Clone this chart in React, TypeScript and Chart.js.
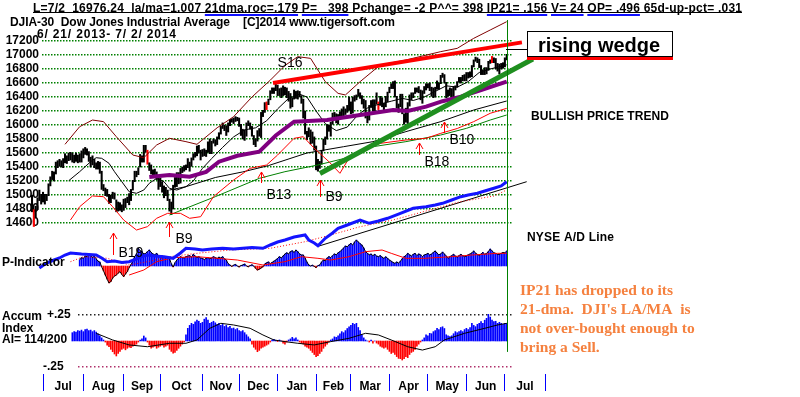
import React, { useEffect, useRef } from "react";
import { Chart, registerables } from "chart.js";

Chart.register(...registerables);

const SANS = "Arial, 'Liberation Sans', Helvetica, sans-serif";
const SERIF = "'Times New Roman', 'Liberation Serif', Times, serif";

// ---------------- text ----------------
const headerText =
  "L=7/2  16976.24  la/ma=1.007 21dma.roc=.179 P=   398 Pchange= -2 P^^= 398 IP21= .156 V= 24 OP= .496 65d-up-pct= .031";
const headerHighlights = ["21dma.roc=.179", "P=   398", "IP21= .156", "V= 24", "OP= .496"];
const titleText = "DJIA-30  Dow Jones Industrial Average    [C]2014 www.tigersoft.com";
const periodText = "6/ 21/ 2013- 7/ 2/ 2014";
const wedgeLabel = "rising wedge";
const trendLabel = "BULLISH PRICE TREND";
const adLabel = "NYSE A/D Line";
const pLabel = "P-Indicator";
const accumLabels = ["Accum", "Index", "AI= 114/200"];
const noteLines = [
  "IP21 has dropped to its",
  "21-dma.  DJI's LA/MA  is",
  "not over-bought enough to",
  "bring a Sell.",
];

// ---------------- axes ----------------
const monthLabels = ["Jul", "Aug", "Sep", "Oct", "Nov", "Dec", "Jan", "Feb", "Mar", "Apr", "May", "Jun", "Jul"];
const monthStartDays = [6, 28, 50, 70, 93, 113, 134, 155, 174, 195, 216, 237, 258, 280];
const priceTicks = [14600, 14800, 15000, 15200, 15400, 15600, 15800, 16000, 16200, 16400, 16600, 16800, 17000, 17200];
const accumLevels = [0.25, -0.25];
const accumLevelText = ["+.25", "-.25"];
const lastDay = 259;

// ---------------- daily DJIA bars (trading day 0 = 6/21/2013) ----------------
const highs = [
  15000, 14790, 14840, 14960, 15070, 15010, 15040, 15010, 15010, 15160,
  15260, 15340, 15330, 15470, 15490, 15510, 15490, 15520, 15590, 15560,
  15600, 15610, 15600, 15570, 15600, 15570, 15590, 15630, 15660, 15680,
  15660, 15620, 15540, 15560, 15510, 15460, 15480, 15470, 15340, 15150,
  15100, 15080, 15010, 15000, 15040, 15030, 14930, 14900, 14890, 14860,
  14940, 14950, 14970, 15020, 15080, 15210, 15340, 15340, 15390, 15580,
  15560, 15710, 15710, 15640, 15460, 15430, 15360, 15370, 15330, 15260,
  15240, 15190, 15130, 15110, 15070, 14940, 14900, 15140, 15250, 15320,
  15320, 15380, 15400, 15420, 15430, 15520, 15470, 15530, 15590, 15610,
  15700, 15710, 15640, 15650, 15660, 15640, 15760, 15800, 15770, 15800,
  15790, 15830, 15890, 15980, 16030, 16000, 15990, 16030, 16080, 16090,
  16100, 16120, 16110, 16100, 16010, 15940, 15930, 16030, 16060, 16030,
  15980, 15850, 15800, 15920, 15950, 16180, 16210, 16320, 16330, 16370,
  16490, 16530, 16530, 16590, 16570, 16520, 16530, 16560, 16540, 16530,
  16480, 16450, 16390, 16500, 16480, 16490, 16480, 16420, 16370, 16200,
  15910, 15960, 15930, 15900, 15830, 15700, 15510, 15480, 15640, 15800,
  15830, 16000, 16000, 16040, 16170, 16180, 16160, 16150, 16190, 16230,
  16260, 16230, 16280, 16400, 16330, 16400, 16420, 16430, 16510, 16460,
  16420, 16370, 16350, 16160, 16280, 16350, 16360, 16360, 16460, 16330,
  16410, 16390, 16310, 16410, 16470, 16540, 16590, 16620, 16630, 16410,
  16300, 16440, 16440, 16160, 16240, 16320, 16430, 16460, 16460, 16530,
  16530, 16550, 16500, 16490, 16550, 16590, 16590, 16600, 16540, 16530,
  16540, 16630, 16600, 16710, 16740, 16720, 16610, 16500, 16530, 16520,
  16550, 16560, 16620, 16680, 16680, 16710, 16720, 16750, 16750, 16760,
  16850, 16930, 16970, 16960, 16940, 16850, 16790, 16820, 16820, 16910,
  16930, 16980, 16960, 16950, 16880, 16870, 16880, 16890, 16960, 17010,
];
const lows = [
  14760, 14550, 14680, 14790, 14920, 14870, 14900, 14870, 14920, 14990,
  15130, 15220, 15200, 15300, 15390, 15410, 15400, 15390, 15460, 15450,
  15490, 15500, 15470, 15460, 15480, 15460, 15470, 15470, 15530, 15580,
  15570, 15480, 15400, 15430, 15390, 15370, 15370, 15310, 15080, 15060,
  14990, 14980, 14880, 14890, 14950, 14940, 14760, 14770, 14780, 14760,
  14780, 14820, 14890, 14860, 14920, 15070, 15190, 15260, 15290, 15400,
  15470, 15470, 15610, 15440, 15350, 15300, 15260, 15260, 15220, 15080,
  15120, 15040, 14960, 14990, 14920, 14770, 14720, 14800, 15110, 15120,
  15160, 15170, 15320, 15340, 15360, 15390, 15340, 15410, 15500, 15540,
  15560, 15600, 15500, 15550, 15560, 15550, 15610, 15590, 15590, 15740,
  15700, 15720, 15800, 15870, 15950, 15920, 15850, 15900, 15990, 16040,
  16020, 16050, 16060, 15980, 15850, 15800, 15780, 15840, 15990, 15940,
  15840, 15720, 15690, 15770, 15840, 15820, 16120, 16180, 16220, 16290,
  16360, 16450, 16450, 16490, 16420, 16420, 16390, 16420, 16430, 16390,
  16340, 16240, 16260, 16370, 16380, 16370, 16400, 16310, 16100, 15870,
  15790, 15830, 15730, 15740, 15640, 15360, 15340, 15380, 15440, 15630,
  15720, 15800, 15910, 15840, 16010, 16080, 16030, 16010, 16100, 16110,
  16130, 16150, 16180, 16210, 16160, 16170, 16340, 16360, 16410, 16380,
  16300, 16240, 16100, 16030, 16070, 16250, 16200, 16200, 16300, 16220,
  16280, 16260, 16200, 16260, 16330, 16460, 16520, 16520, 16400, 16240,
  16180, 16260, 16160, 16010, 16040, 16020, 16270, 16360, 16390, 16450,
  16470, 16460, 16360, 16310, 16450, 16500, 16530, 16490, 16410, 16390,
  16400, 16510, 16510, 16590, 16680, 16600, 16390, 16410, 16420, 16360,
  16380, 16500, 16540, 16610, 16600, 16630, 16630, 16630, 16670, 16680,
  16690, 16830, 16910, 16890, 16820, 16720, 16720, 16720, 16730, 16780,
  16880, 16890, 16890, 16800, 16770, 16730, 16800, 16810, 16830, 16930,
];
const redBarDays = [1, 63, 128, 189, 251];

// ---------------- price-panel lines: [trading day, value] ----------------
const ma21 = [[20,15204],[26,15333],[32,15476],[35,15533],[38,15524],[42,15453],[45,15333],[49,15190],[53,15047],[57,15024],[61,15071],[64,15167],[68,15238],[72,15190],[75,15095],[79,15071],[84,15119],[88,15200],[93,15380],[98,15520],[104,15680],[110,15830],[116,15930],[122,15960],[128,16060],[134,16230],[140,16380],[146,16440],[150,16400],[155,16200],[160,16020],[166,15920],[172,15970],[178,16150],[184,16260],[190,16300],[196,16340],[202,16380],[208,16350],[214,16400],[220,16480],[226,16560],[232,16540],[238,16620],[244,16750],[250,16800],[256,16840],[259,16860]];
const upperBand = [[18,15724],[26,15976],[33,16071],[39,16048],[46,15833],[55,15571],[61,15533],[68,15714],[75,15810],[84,15762],[90,15724],[101,15960],[110,16119],[120,16400],[130,16640],[138,16850],[145,16976],[152,16952],[160,16619],[167,16452],[171,16429],[179,16619],[190,16857],[204,16929],[223,17048],[232,17095],[241,17238],[250,17357],[259,17476]];
const lowerBand = [[21,14643],[26,14833],[33,14986],[39,14976],[44,14833],[50,14643],[57,14500],[63,14548],[68,14667],[74,14738],[81,14738],[86,14667],[92,14690],[99,14976],[110,15214],[119,15381],[128,15429],[134,15571],[143,15810],[148,15833],[154,15667],[162,15476],[168,15310],[174,15571],[190,15738],[204,15786],[215,15810],[223,15881],[232,15950],[241,16048],[250,16167],[259,16238]];
const ma65 = [[64,15257],[75,15286],[86,15262],[95,15330],[102,15476],[112,15560],[124,15619],[133,15850],[143,16048],[161,16071],[179,16143],[197,16214],[205,16200],[215,16262],[224,16340],[234,16405],[245,16500],[259,16619]];
const slowMa = [[75,15071],[84,15119],[100,15250],[115,15330],[129,15420],[150,15600],[170,15690],[186,15762],[204,15905],[223,16048],[241,16214],[259,16343]];
const greenMa = [[75,14714],[84,14810],[100,14976],[124,15238],[138,15333],[156,15429],[170,15520],[186,15690],[204,15762],[223,15857],[237,15952],[250,16071],[259,16143]];
const wedgeTop = [[131.5,16600],[267.3,17180]];
const supportLine = [[157.1,15307],[273.3,16943]];

// ---------------- NYSE A/D line ----------------
const adLine = [[2,0],[4,700],[8,1200],[12,1500],[15,1700],[18,2000],[21,2200],[24,2150],[27,2100],[31,2050],[35,2000],[38,1700],[41,1330],[45,1400],[49,1250],[53,1330],[57,1600],[60,1850],[63,2000],[67,1900],[72,1830],[77,1670],[81,2200],[84,2670],[89,2600],[93,2500],[98,2600],[104,2670],[110,2600],[115,2670],[120,2750],[126,2670],[130,3000],[134,3300],[138,3500],[143,3800],[149,4000],[151,3500],[154,3200],[156,2930],[160,3670],[164,4200],[167,4670],[172,5000],[179,5500],[184,5170],[189,5400],[194,5670],[201,6170],[208,6670],[215,6830],[220,7000],[224,7170],[229,7500],[234,7830],[238,8000],[243,8170],[247,8400],[252,8670],[256,8900],[259,9330]];
const adMa = [[21,1330],[28,1830],[41,1670],[53,1000],[63,1330],[75,1830],[90,2170],[108,2500],[130,2670],[149,3330],[163,4000],[179,4830],[197,5500],[215,6400],[233,7300],[252,7900],[259,8500]];
const adTrend = [[156.6,2900],[269.9,9330]];

// ---------------- P-Indicator (daily from day 26) ----------------
const pStart = 26;
const pIndicator = [
  150, 210, 190, 250, 230, 292, 260, 220, 240, 180, 120, 100,
  -20, -120, -225, -330, -425, -392, -300, -250, -225, -180, -142, -210, -267, -200, -140, -42,
  33, 120, 233, 300, 442, 380, 358, 300, 317, 360, 400, 340, 300, 280, 317, 260, 230, 250, 233, 200, 233, 180,
  60, -25, 80,
  150, 190, 233, 210, 200, 233, 250, 260, 220, 292, 250, 210, 233, 200, 190, 160, 192, 210, 180, 200, 233, 210, 190, 220, 200, 233, 180, 150,
  60, 25, -10, 20, 40, 0, -25, 10, 25, 50, 0, -20, 10, 30, 0, -60, -100, -80, -50, -20,
  50, 80, 100, 60, 90, 120,
  150, 190, 233, 200, 250, 300,
  330, 300, 360, 380, 340, 400, 360, 300, 275,
  275, 200, 100,
  25, 0, 20, -10, -40, 10, 25,
  100, 150, 130, 200, 233, 210, 260, 300, 280, 330, 360, 400,
  450, 500, 480, 530, 567, 520, 600, 650, 600, 560, 525, 450,
  358, 317, 280, 300, 260, 292, 250, 233, 260, 220, 192, 230, 192,
  150, 120, 90, 67, 100, 70, 120, 180,
  233, 260, 317, 280, 250, 292, 317, 260, 300, 280, 233, 275,
  292, 317, 275, 300, 340, 375, 320, 280, 300, 350, 300,
  250, 192, 233, 260, 292, 250, 220, 260, 292, 260, 233, 250, 280, 300,
  330, 375, 320, 292, 260, 300, 340, 292, 317, 360, 425, 380, 330, 317, 292,
  292, 317, 340, 330, 375,
];
const pMa = [[53,-225],[61,-100],[68,108],[77,208],[90,233],[101,192],[112,150],[126,25],[138,108],[147,233],[156,192],[163,150],[173,233],[182,358],[191,400],[196,317],[204,192],[214,192],[229,233],[240,275],[254,317],[259,317]];

// ---------------- Accumulation Index (daily from day 22) ----------------
const aiStart = 22;
const accumIndex = [
  0.08, 0.09, 0.085, 0.1, 0.095, 0.105, 0.09, 0.11, 0.115, 0.1, 0.105, 0.09, 0.1, 0.085, 0.07, 0.05, 0.03,
  0.01, -0.01,
  -0.04, -0.055, -0.08, -0.103, -0.125, -0.144, -0.12, -0.1, -0.08, -0.07, -0.085, -0.07, -0.06, -0.065, -0.05, -0.04, -0.03, -0.01,
  0.01, 0.02, 0.048, 0.03, -0.01,
  -0.04, -0.07, -0.06, -0.05, -0.07, -0.06, -0.05, -0.04, -0.06, -0.05, -0.04, -0.08, -0.1, -0.118, -0.11, -0.09, -0.07, -0.05, -0.03, -0.01,
  0.06, 0.122, 0.15, 0.17, 0.16, 0.185, 0.2, 0.19, 0.17, 0.18, 0.21, 0.224, 0.2, 0.17, 0.18, 0.19, 0.175, 0.16, 0.17, 0.15, 0.16, 0.14, 0.15, 0.13, 0.14, 0.12, 0.125, 0.11, 0.12, 0.1, 0.09, 0.1, 0.08, 0.06, 0.04, 0.02,
  -0.03, -0.06, -0.08, -0.103, -0.09, -0.07, -0.06, -0.05, -0.04, -0.03, -0.01,
  0.01, 0.015, 0.005, -0.005, 0.01, 0.0, -0.02, -0.03, -0.01, 0.01, 0.02, 0.035, 0.02, 0.03, 0.01,
  -0.01, -0.02, -0.03, -0.05, -0.06, -0.07, -0.09, -0.11, -0.13, -0.151, -0.14, -0.12, -0.1, -0.07, -0.05, -0.03, -0.01,
  0.01, 0.02, 0.04, 0.035, 0.05, 0.07, 0.09, 0.08, 0.1, 0.12, 0.136, 0.15, 0.17, 0.16, 0.17, 0.13, 0.1, 0.06, 0.03,
  0.01, 0.0, -0.01, 0.01, -0.02, 0.0, -0.02, -0.03,
  -0.05, -0.06, -0.07, -0.06, -0.08, -0.1, -0.12, -0.11, -0.13, -0.15, -0.167, -0.17, -0.183, -0.17, -0.15, -0.16, -0.13, -0.11, -0.1, -0.08, -0.05, -0.03, -0.01,
  0.01, 0.03, 0.06, 0.05, 0.074, 0.07, 0.09, 0.1, 0.122, 0.11, 0.13, 0.137, 0.12, 0.06, 0.05, 0.042, 0.05, 0.07, 0.09, 0.08, 0.09, 0.1, 0.09, 0.11, 0.122, 0.11, 0.13, 0.17, 0.15, 0.138, 0.16, 0.17, 0.186, 0.17, 0.2, 0.218, 0.256, 0.23, 0.2, 0.186, 0.19, 0.17, 0.18, 0.17, 0.16, 0.17, 0.17,
];
const aiMa = [[35,0.074],[44,0.01],[53,-0.038],[63,-0.055],[75,-0.022],[84,-0.022],[90,0.01],[97,0.122],[103,0.17],[110,0.154],[119,0.122],[126,0.058],[132,0.01],[138,-0.006],[145,-0.022],[154,-0.038],[163,-0.006],[173,0.026],[182,0.074],[189,0.058],[196,0.01],[205,-0.055],[213,-0.087],[220,-0.055],[225,0.01],[236,0.074],[247,0.122],[254,0.154],[259,0.17]];

// ---------------- signals ----------------
const signals = [
  { day: 44, label: "B19", tip: 14457, tail: 14143 },
  { day: 75, label: "B9", tip: 14614, tail: 14400 },
  { day: 125, label: "B13", tip: 15329, tail: 15171 },
  { day: 157, label: "B9", tip: 15214, tail: 14971 },
  { day: 211, label: "B18", tip: 15743, tail: 15571 },
  { day: 225, label: "B10", tip: 16043, tail: 15886 },
];
const sellSignal = { day: 134, label: "S16", price: 16886 };

// ---------------- layout (pixels) ----------------
const signalLabelOffsets = [[5, -2], [6, 2], [5, 12], [5, 0], [5, 7], [5, 7]];

const xy = (pairs: number[][]) => pairs.map(([x, y]) => ({ x, y }));

const monthTicks: any[] = [];
monthStartDays.forEach((d, i) => {
  monthTicks.push({ value: d, boundary: true });
  if (i < monthLabels.length) monthTicks.push({ value: (d + monthStartDays[i + 1]) / 2, name: monthLabels[i] });
});

function fitText(ctx: any, text: string, x: number, y: number, width?: number) {
  ctx.letterSpacing = "0px";
  if (width) {
    const w = ctx.measureText(text).width;
    const sp = (width - w) / Math.max(1, text.length - 1);
    ctx.letterSpacing = `${sp}px`;
  }
  ctx.fillText(text, x, y);
  ctx.letterSpacing = "0px";
}

function dottedRow(ctx: any, x0: number, x1: number, y: number, color: string, step: number) {
  ctx.fillStyle = color;
  const yy = Math.round(y) - 1;
  for (let x = Math.round(x0); x <= x1; x += step) ctx.fillRect(x, yy, 1.5, 1.5);
}

const annotationPlugin = {
  id: "tigerAnnotations",
  afterDraw(chart: any) {
    const { ctx, chartArea, scales } = chart;
    const xs = scales.x;
    const yp = scales.yPrice;

    // dotted reference grids, painted underneath everything already drawn
    ctx.save();
    ctx.globalCompositeOperation = "destination-over";
    priceTicks.forEach((v) => {
      dottedRow(ctx, chartArea.left, chartArea.right, yp.getPixelForValue(v), "#008000", 3);
    });
    accumLevels.forEach((lv, i) => {
      dottedRow(ctx, 78, chartArea.right, scales.yAI.getPixelForValue(lv), i === 0 ? "#222222" : "#b0306a", 4);
    });
    ctx.restore();

    ctx.save();
    // last-day vertical marker
    const gx = Math.round(xs.getPixelForValue(lastDay)) + 0.5;
    ctx.strokeStyle = "#008000";
    ctx.lineWidth = 1;
    ctx.beginPath();
    ctx.moveTo(gx, chartArea.top);
    ctx.lineTo(gx, scales.yAI.getPixelForValue(-0.105));
    ctx.stroke();

    // signal arrows
    ctx.textAlign = "left";
    ctx.textBaseline = "middle";
    signals.forEach((s, i) => {
      const sx = Math.round(xs.getPixelForValue(s.day)) + 0.5;
      const ty = yp.getPixelForValue(s.tip);
      const by = yp.getPixelForValue(s.tail);
      ctx.strokeStyle = "#ff0000";
      ctx.beginPath();
      ctx.moveTo(sx, by);
      ctx.lineTo(sx, ty);
      ctx.moveTo(sx - 3.5, ty + 6);
      ctx.lineTo(sx, ty);
      ctx.lineTo(sx + 3.5, ty + 6);
      ctx.stroke();
      const [dx, dy] = signalLabelOffsets[i];
      ctx.fillStyle = "#000";
      ctx.font = `14px ${SANS}`;
      ctx.fillText(s.label, sx + dx, by + dy);
    });
    ctx.font = `14px ${SANS}`;
    ctx.fillStyle = "#000";
    ctx.fillText(sellSignal.label, xs.getPixelForValue(sellSignal.day), yp.getPixelForValue(sellSignal.price));

    // header
    ctx.textBaseline = "alphabetic";
    ctx.font = `bold 12px ${SANS}`;
    ctx.fillStyle = "#000";
    const hx = 33;
    fitText(ctx, headerText, hx, 11.5, 709);
    ctx.fillRect(hx, 12, 709, 1);
    {
      const natural = ctx.measureText(headerText).width;
      const sp = (709 - natural) / (headerText.length - 1);
      ctx.fillStyle = "#1010ff";
      headerHighlights.forEach((h) => {
        const k = headerText.indexOf(h);
        const sx = hx + ctx.measureText(headerText.slice(0, k)).width + sp * k;
        const sw = ctx.measureText(h).width + sp * (h.length - 1);
        ctx.fillRect(sx, 14, sw, 2);
      });
    }
    ctx.fillStyle = "#000";
    fitText(ctx, titleText, 10, 26, 385);
    fitText(ctx, periodText, 37, 37.5, 139);

    // rising wedge box
    ctx.fillStyle = "#000";
    ctx.fillRect(506, 49, 21, 1);
    ctx.fillStyle = "#fff";
    ctx.fillRect(527, 31, 146, 26);
    ctx.strokeStyle = "#000";
    ctx.lineWidth = 1;
    ctx.strokeRect(527.5, 31.5, 145, 25);
    ctx.fillStyle = "#ff0000";
    ctx.fillRect(527, 57, 146, 3);
    ctx.fillStyle = "#000";
    ctx.font = `bold 20px ${SANS}`;
    ctx.textAlign = "center";
    ctx.fillText(wedgeLabel, 599, 52);

    // right-side labels
    ctx.textAlign = "left";
    ctx.textBaseline = "middle";
    ctx.font = `bold 12px ${SANS}`;
    fitText(ctx, trendLabel, 531, 117, 138);
    fitText(ctx, adLabel, 527, 238, 87);

    // left panel labels
    ctx.fillText(pLabel, 2, 263);
    accumLabels.forEach((t, i) => ctx.fillText(t, 2, 317 + i * 11.5));
    accumLevels.forEach((lv, i) => {
      const y = scales.yAI.getPixelForValue(lv);
      ctx.fillText(accumLevelText[i], i === 0 ? 47 : 43, y);
    });

    // commentary
    ctx.fillStyle = "#f5813f";
    ctx.font = `bold 15.5px ${SERIF}`;
    ctx.textBaseline = "alphabetic";
    noteLines.forEach((t, i) => ctx.fillText(t, 520, 295 + i * 19));
    ctx.restore();
  },
};

const isBoundary = (c: any) => !!(c.tick && c.tick.boundary);

function buildConfig(): any {
  const lineDs = (label: string, pairs: number[][], axis: string, color: string, width: number, order: number, extra: any = {}) => ({
    type: "line",
    label,
    data: xy(pairs),
    yAxisID: axis,
    borderColor: color,
    borderWidth: width,
    pointRadius: 0,
    tension: 0,
    fill: false,
    order,
    ...extra,
  });
  return {
    type: "bar",
    data: {
      datasets: [
        lineDs("Rising wedge top", wedgeTop, "yPrice", "#ff0000", 4, 0, { clip: false }),
        lineDs("Support trend", supportLine, "yPrice", "#1f8f1f", 5, 0, { clip: false }),
        lineDs("NYSE A/D", adLine, "yAD", "#1414ff", 3, 1, { clip: false }),
        lineDs("A/D MA", adMa, "yAD", "#ff0000", 1, 2, { borderDash: [1, 2] }),
        lineDs("A/D trend", adTrend, "yAD", "#000000", 1, 2, { clip: false }),
        lineDs("65-day MA", ma65, "yPrice", "#800080", 4, 3),
        lineDs("21-day MA", ma21, "yPrice", "#000000", 1, 3),
        lineDs("Upper band", upperBand, "yPrice", "#800000", 1, 3),
        lineDs("Lower band", lowerBand, "yPrice", "#ff0000", 1, 3),
        lineDs("Slow MA", slowMa, "yPrice", "#000000", 1, 3),
        lineDs("Long MA", greenMa, "yPrice", "#008000", 1, 3),
        lineDs("P MA", pMa, "yP", "#ff0000", 1, 4),
        lineDs("P line", pIndicator.map((v, i) => [pStart + i, v]), "yP", "#000000", 1, 5),
        lineDs("AI MA", aiMa, "yAI", "#000000", 1, 4),
        {
          type: "bar",
          label: "DJIA",
          data: highs.map((h, i) => ({ x: i, y: [lows[i], h] })),
          yAxisID: "yPrice",
          backgroundColor: highs.map((_, i) => (redBarDays.includes(i) ? "#ff0000" : "#000000")),
          barThickness: 1.4,
          grouped: false,
          clip: false,
          order: 8,
        },
        {
          type: "bar",
          label: "P-Indicator",
          data: pIndicator.map((v, i) => ({ x: pStart + i, y: v })),
          yAxisID: "yP",
          backgroundColor: pIndicator.map((v) => (v >= 0 ? "#0000ff" : "#ff0000")),
          barThickness: 1,
          grouped: false,
          order: 9,
        },
        {
          type: "bar",
          label: "Accum Index",
          data: accumIndex.map((v, i) => ({ x: aiStart + i, y: v })),
          yAxisID: "yAI",
          backgroundColor: accumIndex.map((v) => (v >= 0 ? "#0000ff" : "#ff0000")),
          barThickness: 1,
          grouped: false,
          order: 9,
        },
      ],
    },
    options: {
      responsive: false,
      animation: false,
      devicePixelRatio: 1,
      events: [],
      layout: { padding: { left: 0, right: 290, top: 20, bottom: 0 } },
      plugins: { legend: { display: false }, tooltip: { enabled: false }, title: { display: false } },
      scales: {
        x: {
          type: "linear",
          position: "bottom",
          min: 5.45,
          max: 260.8,
          offset: false,
          afterBuildTicks: (s: any) => {
            s.ticks = monthTicks.map((t) => ({ ...t }));
          },
          afterFit: (s: any) => {
            s.height = 23;
          },
          grid: {
            display: true,
            offset: false,
            drawOnChartArea: false,
            drawTicks: true,
            tickLength: 17,
            lineWidth: 1,
            color: (c: any) => (isBoundary(c) ? "#0000ff" : "rgba(0,0,0,0)"),
            tickColor: (c: any) => (isBoundary(c) ? "#0000ff" : "rgba(0,0,0,0)"),
          },
          border: { display: false },
          ticks: {
            autoSkip: false,
            maxRotation: 0,
            minRotation: 0,
            padding: -12,
            color: "#000",
            font: { family: SANS, size: 12, weight: "bold" },
            callback: (_v: any, i: number, t: any[]) => t[i].name || "",
          },
        },
        yPrice: {
          type: "linear",
          position: "left",
          min: 12442.86,
          max: 17500,
          afterBuildTicks: (s: any) => {
            s.ticks = priceTicks.map((v) => ({ value: v }));
          },
          afterFit: (s: any) => {
            s.width = 42;
          },
          grid: { display: false, drawTicks: false },
          border: { display: false },
          ticks: {
            autoSkip: false,
            padding: 3,
            color: "#000",
            font: { family: SANS, size: 12, weight: "bold" },
            callback: (v: any) => String(v),
          },
        },
        yP: { type: "linear", display: false, min: -2700, max: 6150 },
        yAI: { type: "linear", display: false, min: -0.3173, max: 3.0865 },
        yAD: { type: "linear", display: false, min: -9900, max: 25500 },
      },
    },
    plugins: [annotationPlugin],
  };
}

export default function App() {
  const ref = useRef<HTMLCanvasElement>(null);
  useEffect(() => {
    const canvas = ref.current;
    if (!canvas) return;
    const chart = new Chart(canvas, buildConfig());
    return () => chart.destroy();
  }, []);
  return (
    <div style={{ position: "fixed", left: 0, top: 0, width: 800, height: 397, background: "#ffffff" }}>
      <canvas ref={ref} width={800} height={397} style={{ display: "block", width: 800, height: 397 }} />
    </div>
  );
}
